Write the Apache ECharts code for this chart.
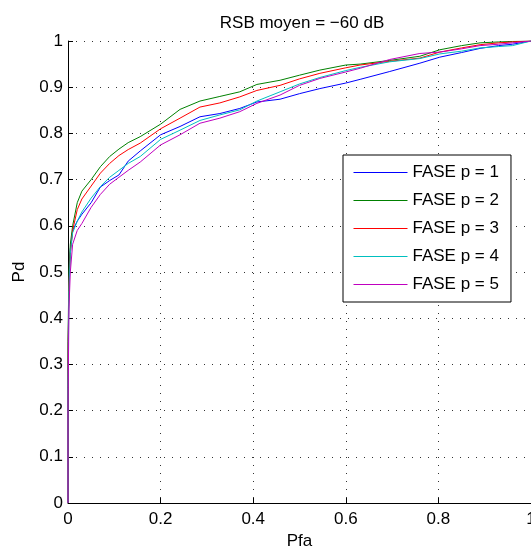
<!DOCTYPE html>
<html>
<head>
<meta charset="utf-8">
<script src="https://cdn.jsdelivr.net/npm/echarts@6/dist/echarts.min.js"></script>
<style>html,body{margin:0;padding:0;background:#fff}#c{width:531px;height:550px}</style>
</head>
<body>
<div id="c"></div>
<script>
const pfa = [0, 0, 0.002, 0.005, 0.01, 0.02, 0.03, 0.05, 0.07, 0.09, 0.11, 0.13, 0.156, 0.2, 0.242, 0.285, 0.328, 0.371, 0.408, 0.458, 0.5, 0.544, 0.6, 0.631, 0.695, 0.76, 0.803, 0.85, 0.89, 0.93, 0.96, 1];
const pdP1 = [0,0.3,0.48,0.55,0.59, 0.61,0.625,0.65,0.684,0.698, 0.71,0.74,0.762,0.797,0.815, 0.836,0.843,0.854,0.868,0.874, 0.886,0.897,0.909,0.917,0.934, 0.952,0.965,0.975,0.984,0.99, 0.993,1];
const pdP2 = [0,0.35,0.5,0.56,0.6, 0.65,0.675,0.70,0.728,0.75, 0.766,0.78,0.793,0.82,0.852, 0.870,0.880,0.890,0.906,0.915, 0.926,0.937,0.948,0.950,0.958, 0.967,0.981,0.99,0.996,0.998, 0.999,1];
const pdP3 = [0,0.3,0.47,0.54,0.59, 0.635,0.658,0.686,0.714,0.735, 0.752,0.765,0.779,0.81,0.833, 0.857,0.866,0.879,0.893,0.904, 0.918,0.930,0.942,0.948,0.956, 0.963,0.976,0.985,0.992,0.996, 0.998,1];
const pdP4 = [0,0.25,0.46,0.54,0.585, 0.61,0.63,0.66,0.685,0.705, 0.72,0.735,0.75,0.787,0.807, 0.828,0.84,0.851,0.87,0.89, 0.907,0.921,0.936,0.943,0.955, 0.962,0.972,0.978,0.985,0.988, 0.99,1];
const pdP5 = [0,0.2,0.42,0.5,0.56, 0.59,0.605,0.64,0.668,0.69, 0.705,0.72,0.738,0.775,0.797, 0.822,0.833,0.847,0.865,0.883, 0.904,0.919,0.933,0.941,0.96, 0.973,0.976,0.983,0.99,0.993, 0.996,1];
const seriesNames = ['FASE p = 1', 'FASE p = 2', 'FASE p = 3', 'FASE p = 4', 'FASE p = 5'];
const seriesValues = [pdP1, pdP2, pdP3, pdP4, pdP5];
const colors = ['#0000ff', '#008000', '#ff0000', '#00bfbf', '#bf00bf'];
const titleText = 'RSB moyen = \u221260 dB';
const xName = 'Pfa';
const yName = 'Pd';

const FONT = 'Liberation Sans, Arial, sans-serif';
const chart = echarts.init(document.getElementById('c'), null, {renderer: 'canvas'});
const gridDot = {show: true, lineStyle: {color: '#333', width: 1, type: [1, 7]}};
chart.setOption({
  animation: false,
  backgroundColor: '#fff',
  color: colors,
  title: {
    text: titleText, left: 297, top: 10, textAlign: 'center',
    textStyle: {fontFamily: FONT, fontSize: 17, fontWeight: 'normal', color: '#000'}
  },
  grid: {left: 68, right: 0, top: 41, bottom: 47, containLabel: false, outerBoundsMode: 'none'},
  legend: {
    orient: 'vertical', left: 343, top: 155,
    itemWidth: 54, itemHeight: 14, itemGap: 11,
    padding: [9, 12, 9, 10],
    backgroundColor: '#fff', borderColor: '#000', borderWidth: 1, borderRadius: 0,
    itemStyle: {opacity: 0},
    lineStyle: {width: 1},
    textStyle: {fontFamily: FONT, fontSize: 17, color: '#000'},
    data: seriesNames
  },
  xAxis: {
    type: 'value', min: 0, max: 1, interval: 0.2,
    name: xName, nameLocation: 'middle', nameGap: 29,
    nameTextStyle: {fontFamily: FONT, fontSize: 17, color: '#000'},
    axisLine: {show: true, onZero: false, lineStyle: {color: '#000', width: 1}},
    axisTick: {show: true, inside: true, length: 5, lineStyle: {color: '#000'}},
    axisLabel: {fontFamily: FONT, fontSize: 17, color: '#000', margin: 8, formatter: v => String(+v.toFixed(1))},
    splitLine: gridDot
  },
  yAxis: {
    type: 'value', min: 0, max: 1, interval: 0.1,
    name: yName, nameLocation: 'middle', nameGap: 40,
    nameTextStyle: {fontFamily: FONT, fontSize: 17, color: '#000'},
    axisLine: {show: true, onZero: false, lineStyle: {color: '#000', width: 1}},
    axisTick: {show: true, inside: true, length: 5, lineStyle: {color: '#000'}},
    axisLabel: {fontFamily: FONT, fontSize: 17, color: '#000', margin: 5, formatter: v => String(+v.toFixed(1))},
    splitLine: gridDot
  },
  series: seriesNames.map((name, i) => ({
    name: name, type: 'line', symbol: 'none', smooth: false,
    lineStyle: {width: 1, color: colors[i]},
    itemStyle: {color: colors[i]},
    data: pfa.map((x, k) => [x, seriesValues[i][k]])
  }))
});
</script>
</body>
</html>
